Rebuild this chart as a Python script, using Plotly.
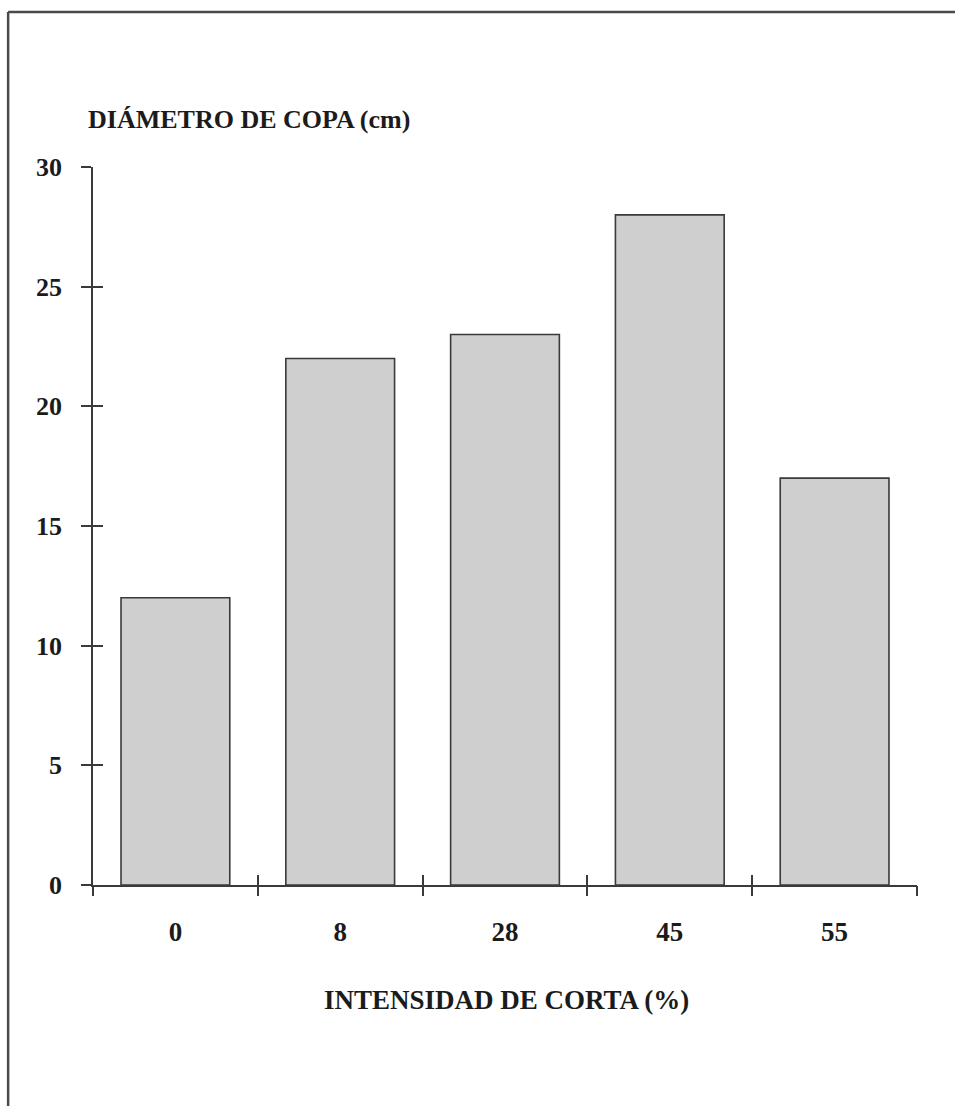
import plotly.graph_objects as go

# Crown diameter by cutting intensity
intensidad = ["0", "8", "28", "45", "55"]
diametro_cm = [12, 22, 23, 28, 17]
y_ticks = [0, 5, 10, 15, 20, 25, 30]

SERIF = "Liberation Serif, Times New Roman, serif"
INK = "#1b1b1b"
LINE = "#3a3a3a"

fig = go.Figure()
fig.add_trace(go.Bar(
    x=list(range(len(intensidad))),
    y=diametro_cm,
    width=0.66,
    marker=dict(color="#cfcfcf", line=dict(color=LINE, width=1.6)),
    showlegend=False,
    hoverinfo="skip",
))
# helper traces so the crossing-tick axes get drawn
fig.add_trace(go.Scatter(x=[], y=[], xaxis="x2", yaxis="y2", showlegend=False))
fig.add_trace(go.Scatter(x=[], y=[], xaxis="x3", yaxis="y", showlegend=False))

n = len(intensidad)
bounds = [i - 0.5 for i in range(n + 1)]

axis_common = dict(showgrid=False, zeroline=False)
tick_style = dict(ticklen=10, tickwidth=1.6, tickcolor=LINE)

fig.update_layout(
    width=955,
    height=1106,
    margin=dict(l=93, r=38, t=167, b=221),
    paper_bgcolor="white",
    plot_bgcolor="white",
    xaxis=dict(
        **axis_common,
        range=[-0.5, n - 0.5],
        tickmode="array",
        tickvals=list(range(n)),
        ticktext=intensidad,
        ticks="",
        showline=True,
        linecolor=LINE,
        linewidth=1.6,
        ticklabelstandoff=22,
        tickfont=dict(family=SERIF, size=27, color=INK, weight="bold"),
    ),
    # outward half of the x ticks at the category boundaries
    xaxis2=dict(
        **axis_common, **tick_style,
        overlaying="x", anchor="y", side="bottom",
        range=[-0.5, n - 0.5],
        tickmode="array", tickvals=bounds,
        ticks="outside",
        showticklabels=False, showline=False,
    ),
    # inward half of the x ticks
    xaxis3=dict(
        **axis_common, **tick_style,
        overlaying="x", anchor="y", side="bottom",
        range=[-0.5, n - 0.5],
        tickmode="array", tickvals=bounds,
        ticks="inside",
        showticklabels=False, showline=False,
    ),
    yaxis=dict(
        **axis_common, **tick_style,
        range=[0, 30],
        tickmode="array",
        tickvals=y_ticks,
        ticks="outside",
        showline=True,
        linecolor=LINE,
        linewidth=1.6,
        ticklabelstandoff=14,
        tickfont=dict(family=SERIF, size=26, color=INK, weight="bold"),
    ),
    yaxis2=dict(
        **axis_common, **tick_style,
        overlaying="y", anchor="x", side="left",
        range=[0, 30],
        tickmode="array", tickvals=y_ticks,
        ticks="inside",
        showticklabels=False, showline=False,
    ),
    annotations=[
        dict(
            text="DIÁMETRO DE COPA (cm)",
            xref="paper", yref="paper",
            x=-0.008, y=1.066,
            xanchor="left", yanchor="middle",
            showarrow=False,
            font=dict(family=SERIF, size=26, color=INK, weight="bold"),
        ),
        dict(
            text="INTENSIDAD DE CORTA (%)",
            xref="paper", yref="paper",
            x=0.502, y=-0.160,
            xanchor="center", yanchor="middle",
            showarrow=False,
            font=dict(family=SERIF, size=27, color=INK, weight="bold"),
        ),
    ],
    shapes=[
        # frame around the figure
        dict(type="line", xref="paper", yref="paper",
             x0=-0.103, x1=-0.103, y0=1.216, y1=-0.32,
             line=dict(color="#4a4a4a", width=2.5)),
        dict(type="line", xref="paper", yref="paper",
             x0=-0.103, x1=1.06, y0=1.216, y1=1.216,
             line=dict(color="#4a4a4a", width=2.5)),
    ],
)

fig.write_html("out.html")
